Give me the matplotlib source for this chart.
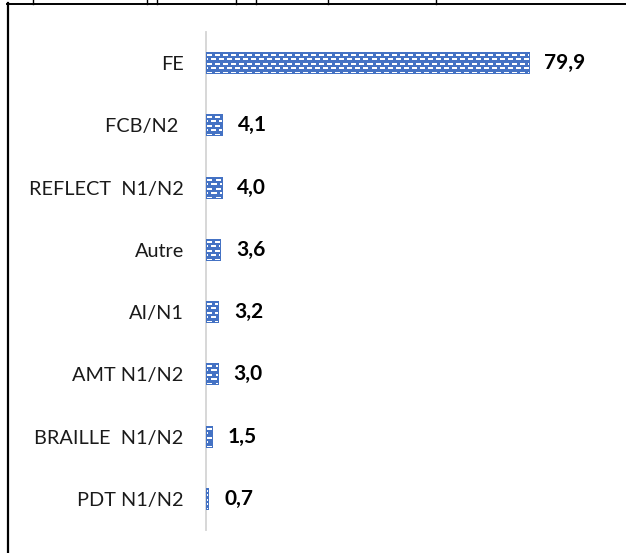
import numpy as np
import matplotlib.pyplot as plt
from matplotlib.lines import Line2D

categories = ['FE', 'FCB/N2 ', 'REFLECT  N1/N2', 'Autre', 'AI/N1', 'AMT N1/N2', 'BRAILLE  N1/N2', 'PDT N1/N2']
values = [79.9, 4.1, 4.0, 3.6, 3.2, 3.0, 1.5, 0.7]
value_labels = ['79,9', '4,1', '4,0', '3,6', '3,2', '3,0', '1,5', '0,7']

blue = np.array([0x44, 0x72, 0xc4]) / 255.0
plt.rcParams['font.family'] = ['Lato', 'DejaVu Sans']

W, H = 626, 553
fig = plt.figure(figsize=(W / 100, H / 100), dpi=100)
ax = fig.add_axes([206 / W, 23 / H, 364 / W, 498 / H])

y = np.arange(len(categories))
bars = ax.barh(y, values, height=0.35, color=blue, linewidth=0)
ax.set_xlim(0, 90)
ax.set_ylim(len(categories) - 0.5, -0.5)

ax.set_yticks(y)
ax.set_yticklabels(categories, fontsize=14.3, color='#1a1a1a')
ax.tick_params(axis='y', length=0, pad=16)
ax.set_xticks([])
for s in ['top', 'right', 'bottom']:
    ax.spines[s].set_visible(False)
ax.spines['left'].set_color('#d4d4d4')
ax.spines['left'].set_linewidth(1.3)

# dashed-brick fill, drawn as a texture clipped to each bar
fig.canvas.draw()
for b in bars:
    bb = b.get_window_extent()
    wpx = max(int(round(bb.width)), 1)
    hpx = max(int(round(bb.height)), 1)
    tex = np.ones((hpx, wpx, 3)) * blue
    for i in range(1, hpx - 1):
        r = i % 9
        if r in (2, 3):
            off = 0
        elif r in (6, 7):
            off = 4
        else:
            continue
        for j in range(1, wpx - 1):
            if (j + off) % 8 in (1, 2, 3, 4, 5):
                tex[i, j] = 1.0
    x0, yc, bw, bh = b.get_x(), b.get_y(), b.get_width(), b.get_height()
    im = ax.imshow(tex, extent=(x0, x0 + bw, yc + bh, yc), aspect='auto',
                   interpolation='nearest', zorder=3)
    im.set_clip_path(b)
ax.set_xlim(0, 90)
ax.set_ylim(len(categories) - 0.5, -0.5)

for yi, v, lab in zip(y, values, value_labels):
    ax.annotate(lab, (v, yi), xytext=(11, 0), textcoords='offset points',
                ha='left', va='center', fontsize=15, fontweight='bold', color='black')

# frame around the chart area
fig.add_artist(Line2D([7.5 / W, 7.5 / W], [0, 1 - 3 / H], transform=fig.transFigure, color='black', lw=1.6))
fig.add_artist(Line2D([7 / W, 1], [1 - 3.5 / H, 1 - 3.5 / H], transform=fig.transFigure, color='black', lw=1.4))
for xt in [33, 147, 157, 236, 256, 328, 436]:
    fig.add_artist(Line2D([xt / W, xt / W], [1 - 3.5 / H, 1], transform=fig.transFigure, color='black', lw=1))

fig.savefig('out.png', dpi=100)
